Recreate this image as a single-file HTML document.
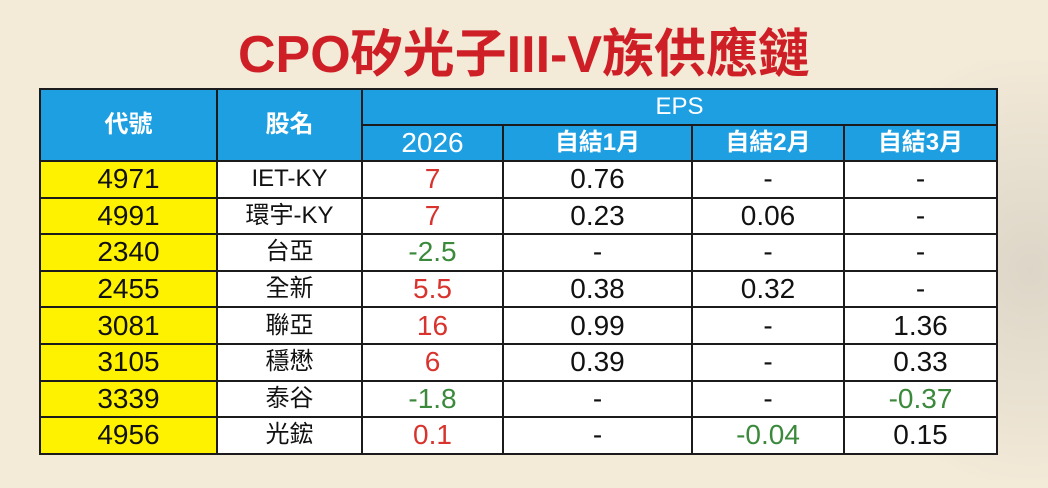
<!DOCTYPE html><html><head><meta charset="utf-8"><style>
body{margin:0;width:1048px;height:488px;overflow:hidden;background:#f4ead8;position:relative;font-family:"Liberation Sans","Noto Sans CJK TC",sans-serif}
.bg{position:absolute;right:-60px;top:60px;width:260px;height:420px;background:radial-gradient(ellipse at 70% 50%,#ddd6c8 0%,#e8e0d0 40%,rgba(244,234,216,0) 75%)}
.t{position:absolute;left:0;width:1048px;top:24px;text-align:center;color:#cf1f26;font-weight:bold;font-size:52px;line-height:62px;letter-spacing:0px}
table{position:absolute;left:39px;top:88px;border-collapse:collapse;table-layout:fixed}
td{border:2px solid #1b1b1b;text-align:center;padding:0;font-size:28px;height:34.6px;line-height:34px;background:#fff;color:#111}
.h{background:#1d9fe2;color:#fff;font-weight:bold;font-size:24px;height:34px}
.y{background:#fff200}
.r{color:#d8332c}.g{color:#3b8a3b}
.n{font-size:24px}
</style></head><body><div class="bg"></div>
<div class="t">CPO矽光子III-V族供應鏈</div>
<table>
<colgroup><col style="width:177px"><col style="width:145px"><col style="width:141px"><col style="width:189px"><col style="width:152px"><col style="width:153px"></colgroup>
<tr><td class="h" rowspan="2">代號</td><td class="h" rowspan="2">股名</td><td class="h" colspan="4" style="font-weight:normal">EPS</td></tr>
<tr><td class="h" style="font-weight:normal;font-size:28px">2026</td><td class="h">自結1月</td><td class="h">自結2月</td><td class="h">自結3月</td></tr>
<tr><td class="y">4971</td><td class="n">IET-KY</td><td class="r">7</td><td>0.76</td><td>-</td><td>-</td></tr>
<tr><td class="y">4991</td><td class="n">環宇-KY</td><td class="r">7</td><td>0.23</td><td>0.06</td><td>-</td></tr>
<tr><td class="y">2340</td><td class="n">台亞</td><td class="g">-2.5</td><td>-</td><td>-</td><td>-</td></tr>
<tr><td class="y">2455</td><td class="n">全新</td><td class="r">5.5</td><td>0.38</td><td>0.32</td><td>-</td></tr>
<tr><td class="y">3081</td><td class="n">聯亞</td><td class="r">16</td><td>0.99</td><td>-</td><td>1.36</td></tr>
<tr><td class="y">3105</td><td class="n">穩懋</td><td class="r">6</td><td>0.39</td><td>-</td><td>0.33</td></tr>
<tr><td class="y">3339</td><td class="n">泰谷</td><td class="g">-1.8</td><td>-</td><td>-</td><td class="g">-0.37</td></tr>
<tr><td class="y">4956</td><td class="n">光鋐</td><td class="r">0.1</td><td>-</td><td class="g">-0.04</td><td>0.15</td></tr>
</table></body></html>
